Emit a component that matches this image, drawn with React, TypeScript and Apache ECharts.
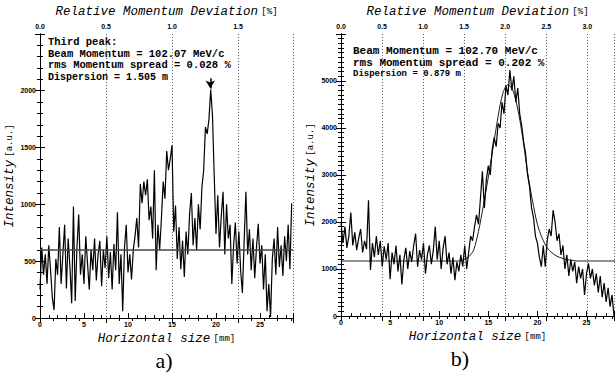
import React, { useEffect, useRef } from "react";
import * as echarts from "echarts";

// ---------- data ----------
const stepA = 0.2; // mm between samples, panel a
const intensityA = [
  250, 620, 380, 560, 300, 640, 420, 180, 70, 520,
  380, 800, 300, 560, 820, 260, 700, 450, 130, 980,
  150, 620, 910, 380, 560, 300, 720, 480, 250, 600,
  420, 700, 330, 560, 680, 280, 600, 440, 720, 350,
  580, 250, 650, 420, 930, 300, 560, 60, 620, 820,
  400, 560, 340, 600, 720, 880, 620, 1180, 1010, 1200,
  1080, 1220, 860, 980, 700, 1300, 420, 820, 600, 880,
  1200, 1050, 1470, 1300, 1400, 1520, 760, 990, 520, 800,
  430, 680, 360, 760, 560, 920, 1100, 640, 880, 600,
  1000, 780, 1150, 1300, 1680, 1620, 1750, 2010, 1780, 1250,
  740, 1080, 620, 900, 1110, 560, 1000, 700, 820, 300,
  640, 840, 480, 760, 420, 220, 680, 1110, 560, 780,
  420, 700, 350, 620, 830, 480, 640, 250, 560, 60,
  300, 10, 520, 700, 380, 800, 450, 640, 370, 720,
  500, 820, 430, 1010,
];
const baselineA = 600;
const arrowA = { x: 19.35, top: 2110, tip: 2020 };

const stepB = 0.2; // mm between samples, panel b
const intensityB = [
  2000, 1550, 1900, 1450, 1700, 2200, 1500, 1780, 1400, 1650,
  1850, 1350, 1600, 1420, 2460, 980, 1550, 1250, 1700, 1300,
  1600, 1050, 1480, 1200, 1550, 780, 1350, 1100, 1500, 950,
  1300, 670, 1200, 1450, 1000, 1380, 1150, 1500, 1750, 1050,
  1400, 1200, 1550, 900, 1300, 1500, 1100, 1400, 1900, 1200,
  1600, 1000, 1450, 1700, 1100, 1350, 900, 1250, 760, 1150,
  950, 1300, 1050, 1500, 1000, 1350, 1700, 1600, 1900, 2150,
  1950, 2500, 3080, 2300, 2900, 3200, 3000, 3550, 3800, 3600,
  4100, 4000, 4550, 4300, 4900, 4700, 5230, 4800, 5100, 4550,
  4850, 4300, 4050, 3700, 3450, 3000, 2750, 2300, 2100, 1700,
  1550, 1250, 1050, 1500, 1050, 1600, 1850, 1700, 2250, 2000,
  1600, 1750, 1300, 1500, 1000, 1300, 850, 1200, 950, 1150,
  700, 1050, 800, 1000, 450, 900, 1120, 800, 1000, 650,
  900, 500, 850, 400, 700, 300, 600, 200, 450, 0,
];
const fitStepB = 0.5; // mm between fit samples, panel b
const fitB = [
  1170, 1170, 1170, 1170, 1170, 1170, 1170, 1170, 1170, 1170,
  1170, 1170, 1170, 1170, 1170, 1170, 1170, 1170, 1170, 1170,
  1170, 1170, 1170, 1170, 1170,
  1200, 1260, 1400, 1800, 2350, 2950, 3600, 4250, 4750, 4920,
  4800, 4400, 3800, 3050, 2450, 1950, 1650, 1450, 1340, 1270,
  1230, 1200, 1185,
  1170, 1170, 1170, 1170, 1170, 1170, 1170, 1170, 1170,
];

const xMaxA = 28.75;
const xMaxB = 27.8;
const pctPerMmA = 0.5 / 7.5;
const pctPerMmB = 0.5 / 4.18;

const notesA = [
  "Third peak:",
  "Beam Momentum = 102.07 MeV/c",
  "rms Momentum spread = 0.028 %",
  "Dispersion = 1.505 m",
];
const notesB = [
  "Beam Momentum = 102.70 MeV/c",
  "rms Momentum spread = 0.202 %",
  "Dispersion = 0.879 m",
];

// ---------- styles ----------
const BLACK = "#000";
const tickFont = {
  fontSize: 7,
  fontWeight: "bold" as const,
  fontFamily: "Liberation Sans",
  color: BLACK,
};
const rich = {
  it: { fontFamily: "Liberation Mono", fontStyle: "italic", fontSize: 12.5, color: BLACK },
  up: { fontFamily: "Liberation Mono", fontSize: 9, color: BLACK },
};
const line = { show: true, lineStyle: { color: BLACK, width: 1 } };

function bottomAxis(gridIndex: number, max: number) {
  return {
    type: "value",
    gridIndex,
    position: "bottom",
    min: 0,
    max,
    interval: 5,
    axisLine: line,
    axisTick: { show: true, inside: true, length: 5, lineStyle: { color: BLACK } },
    minorTick: { show: true, splitNumber: 5, length: 3, lineStyle: { color: BLACK } },
    splitLine: { show: false },
    axisLabel: { ...tickFont, margin: 3, showMaxLabel: false, formatter: (v: number) => String(v) },
    name: "{it|Horizontal size} {up|[mm]}",
    nameLocation: "middle",
    nameGap: 13,
    nameTextStyle: { rich },
  };
}
function topAxis(gridIndex: number, max: number) {
  return {
    type: "value",
    gridIndex,
    position: "top",
    min: 0,
    max,
    interval: 0.5,
    axisLine: line,
    axisTick: { show: true, inside: true, length: 5, lineStyle: { color: BLACK } },
    minorTick: { show: true, splitNumber: 5, length: 3, lineStyle: { color: BLACK } },
    splitLine: { show: true, lineStyle: { color: "#555", width: 1, type: [1, 2] } },
    axisLabel: { ...tickFont, margin: 4, showMaxLabel: false, formatter: (v: number) => v.toFixed(1) },
    name: "{it|Relative Momentum Deviation} {up|[%]}",
    nameLocation: "middle",
    nameGap: 15,
    nameTextStyle: { rich },
  };
}
function leftAxis(gridIndex: number, max: number, interval: number, minor: number, gap: number) {
  return {
    type: "value",
    gridIndex,
    position: "left",
    min: 0,
    max,
    interval,
    axisLine: line,
    axisTick: { show: true, inside: true, length: 5, lineStyle: { color: BLACK } },
    minorTick: { show: true, splitNumber: minor, length: 3, lineStyle: { color: BLACK } },
    splitLine: { show: false },
    axisLabel: { ...tickFont, margin: 4, showMaxLabel: false, formatter: (v: number) => String(v) },
    name: "{it|Intensity} {up|[a.u.]}",
    nameLocation: "middle",
    nameGap: gap,
    nameTextStyle: { rich },
  };
}
function rightAxis(gridIndex: number, max: number, interval: number, minor: number) {
  return {
    type: "value",
    gridIndex,
    position: "right",
    min: 0,
    max,
    interval,
    axisLine: line,
    axisTick: { show: true, inside: true, length: 5, lineStyle: { color: BLACK } },
    minorTick: { show: true, splitNumber: minor, length: 3, lineStyle: { color: BLACK } },
    splitLine: { show: false },
    axisLabel: { show: false },
  };
}

function noteTexts(lines: string[], x: number, ys: number[], sizes: number[]) {
  return lines.map((t, i) => ({
    type: "text",
    x,
    y: ys[i],
    silent: true,
    style: {
      text: t,
      font: `bold ${sizes[i]}px "Liberation Mono"`,
      fill: BLACK,
      verticalAlign: "middle",
    },
  }));
}

export default function App() {
  const ref = useRef<HTMLDivElement>(null);
  useEffect(() => {
    document.body.style.margin = "0";
    if (!ref.current) return;
    const chart = echarts.init(ref.current, undefined, { renderer: "svg" });
    const option = {
      animation: false,
      backgroundColor: "#fff",
      grid: [
        { left: 40, top: 33, width: 253, height: 285 },
        { left: 341, top: 33, width: 273, height: 283 },
      ],
      xAxis: [
        bottomAxis(0, xMaxA),
        topAxis(0, xMaxA * pctPerMmA),
        bottomAxis(1, xMaxB),
        topAxis(1, xMaxB * pctPerMmB),
      ],
      yAxis: [
        leftAxis(0, 2500, 500, 5, 19),
        rightAxis(0, 2500, 500, 5),
        leftAxis(1, 6000, 1000, 10, 23),
        rightAxis(1, 6000, 1000, 10),
      ],
      series: [
        {
          type: "line",
          xAxisIndex: 0,
          yAxisIndex: 0,
          data: intensityA.map((v, i) => [i * stepA, v]),
          showSymbol: false,
          lineStyle: { color: BLACK, width: 1.2 },
          markLine: {
            silent: true,
            symbol: ["none", "none"],
            label: { show: false },
            lineStyle: { color: BLACK, width: 1.5, type: "solid" },
            data: [
              { yAxis: baselineA, lineStyle: { color: "#444", width: 1.6, type: "solid" } },
              [
                { coord: [arrowA.x, arrowA.top], symbol: "none" },
                { coord: [arrowA.x, arrowA.tip], symbol: "arrow", symbolSize: [7, 8] },
              ],
            ],
          },
        },
        {
          type: "line",
          xAxisIndex: 2,
          yAxisIndex: 2,
          data: intensityB.map((v, i) => [i * stepB, v]),
          showSymbol: false,
          lineStyle: { color: BLACK, width: 1.2 },
        },
        {
          type: "line",
          xAxisIndex: 2,
          yAxisIndex: 2,
          data: fitB.map((v, i) => [i * fitStepB, v]),
          showSymbol: false,
          smooth: 0.3,
          lineStyle: { color: BLACK, width: 0.9 },
        },
      ],
      graphic: [
        ...noteTexts(notesA, 48, [42, 53.5, 65, 77], [10.5, 10.5, 10.5, 10]),
        ...noteTexts(notesB, 353, [51, 62.5, 73.5], [11, 11, 9]),
        {
          type: "text",
          x: 164,
          y: 360,
          silent: true,
          style: { text: "a)", font: '22px "Liberation Serif"', fill: BLACK, align: "center", verticalAlign: "middle" },
        },
        {
          type: "text",
          x: 460,
          y: 358,
          silent: true,
          style: { text: "b)", font: '22px "Liberation Serif"', fill: BLACK, align: "center", verticalAlign: "middle" },
        },
      ],
    };
    chart.setOption(option as any);
    return () => chart.dispose();
  }, []);
  return <div ref={ref} style={{ width: 616, height: 375 }} />;
}
